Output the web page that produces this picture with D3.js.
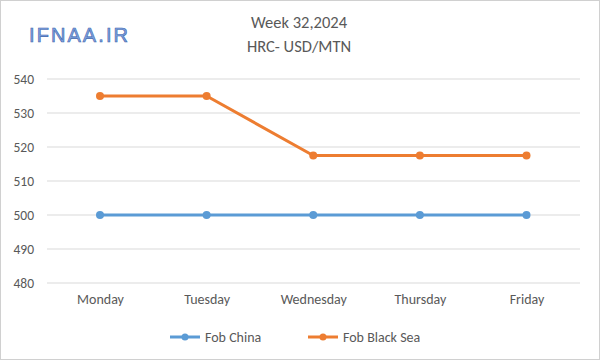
<!DOCTYPE html>
<html><head><meta charset="utf-8">
<script src="https://cdn.jsdelivr.net/npm/d3@7"></script>
<style>body{margin:0;background:#fff}svg{display:block;font-family:Calibri,Carlito,"Open Sans","Liberation Sans",sans-serif}</style>
</head><body><svg id="c" width="600" height="360"></svg>
<script>
const days = ["Monday","Tuesday","Wednesday","Thursday","Friday"];
const fobChina = [500,500,500,500,500];
const fobBlackSea = [535,535,517.5,517.5,517.5];
const yTicks = [480,490,500,510,520,530,540];
const seriesNames = ["Fob China","Fob Black Sea"];
const colors = ["#5b9bd5","#ed7d31"];

const svg = d3.select("#c");
svg.append("rect").attr("x",0.5).attr("y",0.5).attr("width",599).attr("height",359)
  .attr("fill","#fff").attr("stroke","#d0d0d0");

const x = d3.scalePoint().domain(days).range([100,526.5]);
const y = d3.scaleLinear().domain([480,540]).range([283,79]);
const left = 47, right = 580;

svg.append("g").selectAll("line").data(yTicks).join("line")
  .attr("x1",left).attr("x2",right).attr("y1",d=>y(d)).attr("y2",d=>y(d))
  .attr("stroke","#d9d9d9").attr("stroke-width",1);

const ff = "Calibri,Carlito,'Open Sans','Liberation Sans',sans-serif";
const ya = svg.append("g").attr("transform",`translate(${left},0)`)
  .call(d3.axisLeft(y).tickValues(yTicks).tickSize(0).tickPadding(13));
ya.select(".domain").remove();
ya.selectAll("text").attr("fill","#595959").style("font-size","13.5px").style("font-family",ff);

const xa = svg.append("g").attr("transform",`translate(0,${y(480)})`)
  .call(d3.axisBottom(x).tickSize(0).tickPadding(11));
xa.select(".domain").remove();
xa.selectAll("text").attr("fill","#595959").style("font-size","14px").style("font-family",ff);

const line = d3.line().x((d,i)=>x(days[i])).y(d=>y(d));
[fobChina,fobBlackSea].forEach((s,k)=>{
  svg.append("path").datum(s).attr("d",line).attr("fill","none")
    .attr("stroke",colors[k]).attr("stroke-width",3).attr("stroke-linejoin","round");
  svg.append("g").selectAll("circle").data(s).join("circle")
    .attr("cx",(d,i)=>x(days[i])).attr("cy",d=>y(d)).attr("r",4).attr("fill",colors[k]);
});

svg.append("text").attr("x",299).attr("y",28).attr("text-anchor","middle")
  .attr("fill","#595959").style("font-size","16.5px").text("Week 32,2024");
svg.append("text").attr("x",299).attr("y",52).attr("text-anchor","middle")
  .attr("fill","#595959").style("font-size","16.5px").text("HRC- USD/MTN");

svg.append("text").attr("x",29).attr("y",42)
  .attr("fill","#7ea3e0").attr("stroke","#3d63ad").attr("stroke-width",0.6)
  .style("font-size","20px").style("font-family","'Liberation Sans',Arial,sans-serif")
  .attr("textLength",99).text("IFNAA.IR");

const legX = [170,308];
seriesNames.forEach((n,k)=>{
  const g = svg.append("g").attr("transform",`translate(${legX[k]},337)`);
  g.append("line").attr("x1",0).attr("x2",30).attr("stroke",colors[k]).attr("stroke-width",3);
  g.append("circle").attr("cx",15).attr("r",3.5).attr("fill",colors[k]);
  g.append("text").attr("x",35).attr("y",5).attr("fill","#595959").style("font-size","14px").text(n);
});
</script></body></html>
